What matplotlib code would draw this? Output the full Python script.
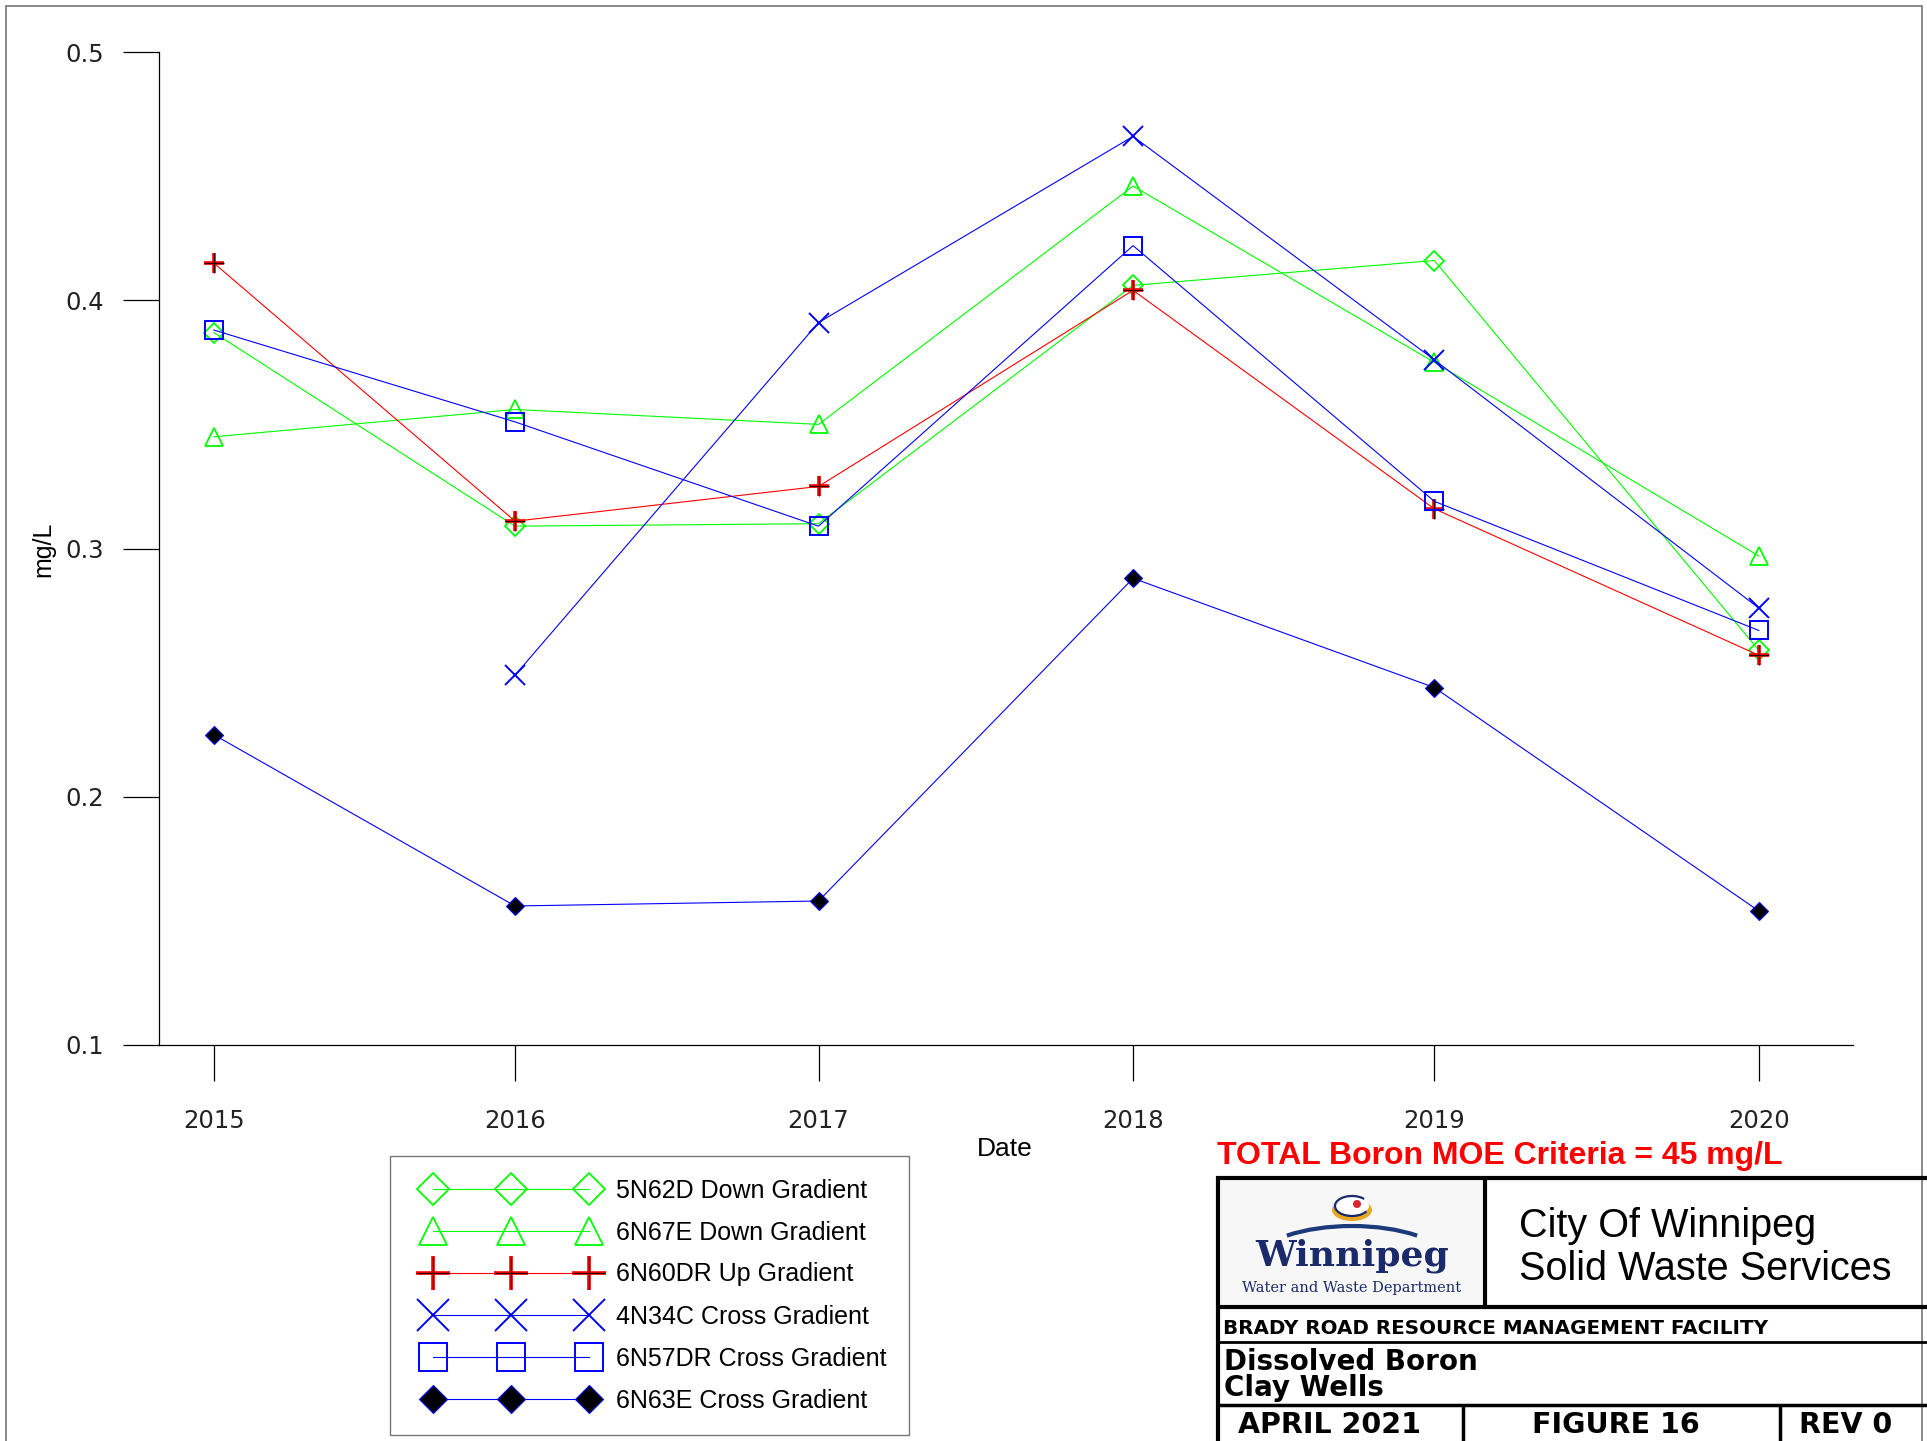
import matplotlib
matplotlib.use("Agg")
import matplotlib.pyplot as plt
from matplotlib.lines import Line2D
from matplotlib.legend_handler import HandlerTuple, HandlerLine2D
from matplotlib.patches import Rectangle, Arc, Ellipse, Circle

# ---------------- data ----------------
sample_years = [2015.45, 2016.425, 2017.407, 2018.425, 2019.40, 2020.45]
tick_labels = ["2015", "2016", "2017", "2018", "2019", "2020"]

s_5N62D = [0.387, 0.309, 0.310, 0.406, 0.416, 0.259]
s_6N67E = [0.345, 0.356, 0.350, 0.446, 0.375, 0.297]
s_6N60DR = [0.415, 0.311, 0.325, 0.404, 0.316, 0.257]
s_4N34C = [None, 0.249, 0.391, 0.466, 0.376, 0.276]
s_6N57DR = [0.388, 0.351, 0.309, 0.422, 0.319, 0.267]
s_6N63E = [0.225, 0.156, 0.158, 0.288, 0.244, 0.154]

labels = ["5N62D Down Gradient", "6N67E Down Gradient", "6N60DR Up Gradient",
          "4N34C Cross Gradient", "6N57DR Cross Gradient", "6N63E Cross Gradient"]

W, H = 1927, 1441
fig = plt.figure(figsize=(W / 100, H / 100), dpi=100)


def fx(x):
    return x / W


def fy(y):
    return 1 - y / H


ax = fig.add_axes([fx(158.5), fy(1045), fx(1853 - 158.5), (1045 - 52) / H])

GREEN = "#00FF00"
RED = "#FF0000"
BLUE = "#0000FF"
lw = 0.8


def xy(vals):
    xs = [x for x, v in zip(sample_years, vals) if v is not None]
    ys = [v for v in vals if v is not None]
    return xs, ys


x, y = xy(s_5N62D)
h1, = ax.plot(x, y, color=GREEN, lw=lw, marker="D", ms=10, mfc="none", mec=GREEN, mew=1.3)
x, y = xy(s_6N67E)
h2, = ax.plot(x, y, color=GREEN, lw=lw, marker="^", ms=13, mfc="none", mec=GREEN, mew=1.3)
x, y = xy(s_6N60DR)
h3a, = ax.plot(x, y, color=RED, lw=lw, marker="+", ms=15, mec=RED, mew=2.6)
h3b, = ax.plot(x, y, color="none", lw=0, marker="+", ms=14, mec="#300000", mew=0.9)
x, y = xy(s_4N34C)
h4, = ax.plot(x, y, color=BLUE, lw=lw, marker="x", ms=14, mec=BLUE, mew=1.4)
x, y = xy(s_6N57DR)
h5, = ax.plot(x, y, color=BLUE, lw=lw, marker="s", ms=13, mfc="none", mec=BLUE, mew=1.4)
x, y = xy(s_6N63E)
h6, = ax.plot(x, y, color=BLUE, lw=lw, marker="D", ms=9, mfc="black", mec=BLUE, mew=0.8)

ax.set_xlim(2015.271, 2020.755)
ax.set_ylim(0.1, 0.5)
ax.set_yticks([0.1, 0.2, 0.3, 0.4, 0.5])
ax.set_yticklabels(["0.1", "0.2", "0.3", "0.4", "0.5"])
ax.set_xticks(sample_years)
ax.set_xticklabels(tick_labels)
for s in ["top", "right"]:
    ax.spines[s].set_visible(False)
for s in ["left", "bottom"]:
    ax.spines[s].set_linewidth(0.9)
ax.tick_params(axis="both", direction="out", length=26, width=0.9, labelsize=17.5,
               colors="black")
ax.tick_params(axis="y", pad=13)
ax.tick_params(axis="x", pad=20)
for t in ax.get_xticklabels() + ax.get_yticklabels():
    t.set_fontfamily("DejaVu Sans")
    t.set_color("#222222")

fig.text(fx(1005), fy(1149), "Date", fontsize=19, family="Liberation Sans",
         ha="center", va="center")
fig.text(fx(43), fy(549), "mg/L", fontsize=18, family="Liberation Sans",
         ha="center", va="center", rotation=90)

# legend
line_handler = HandlerLine2D(marker_pad=0.8)
leg = fig.legend([h1, h2, (h3a, h3b), h4, h5, h6], labels,
                 handler_map={tuple: HandlerTuple(ndivide=1), Line2D: line_handler},
                 loc="upper left", bbox_to_anchor=(fx(390), fy(1156)),
                 prop={"family": "Liberation Sans", "size": 18},
                 numpoints=3, markerscale=1.6, handlelength=7.85,
                 handletextpad=0.3, labelspacing=0.72, borderpad=0.9,
                 borderaxespad=0, fancybox=False, frameon=True)
leg.get_frame().set_edgecolor("#555555")
leg.get_frame().set_linewidth(1.0)

# outer border
fig.add_artist(Rectangle((fx(6), fy(1441 + 10)), fx(1922 - 6), (1441 + 10 - 6) / H,
                         transform=fig.transFigure, fill=False, ec="#777777", lw=1.2))

# title block
fig.text(fx(1217), fy(1156), "TOTAL Boron MOE Criteria = 45 mg/L", color=RED,
         fontsize=23, fontweight="bold", family="Liberation Sans",
         ha="left", va="center")


def hline(y, x0, x1, lw=3):
    fig.add_artist(Line2D([fx(x0), fx(x1)], [fy(y), fy(y)], transform=fig.transFigure,
                          color="black", lw=lw, solid_capstyle="butt"))


def vline(x, y0, y1, lw=3):
    fig.add_artist(Line2D([fx(x), fx(x)], [fy(y0), fy(y1)], transform=fig.transFigure,
                          color="black", lw=lw, solid_capstyle="butt"))


hline(1177.5, 1216, 1927)
vline(1217.5, 1176, 1441)
vline(1485, 1177, 1306)
hline(1306.5, 1216, 1927)
hline(1342, 1216, 1927, lw=2)
hline(1405, 1216, 1927, lw=2.5)
vline(1462.5, 1405, 1441, lw=2.5)
vline(1780, 1405, 1441, lw=2.5)

fig.text(fx(1519), fy(1226), "City Of Winnipeg", fontsize=28.5, family="Liberation Sans",
         ha="left", va="center")
fig.text(fx(1519), fy(1269), "Solid Waste Services", fontsize=28.5, family="Liberation Sans",
         ha="left", va="center")
fig.text(fx(1223), fy(1329), "BRADY ROAD RESOURCE MANAGEMENT FACILITY", fontsize=14.3,
         family="DejaVu Sans", fontweight="bold", ha="left", va="center")
fig.text(fx(1224), fy(1362), "Dissolved Boron", fontsize=20, family="DejaVu Sans",
         fontweight="bold", ha="left", va="center")
fig.text(fx(1224), fy(1388), "Clay Wells", fontsize=20, family="DejaVu Sans",
         fontweight="bold", ha="left", va="center")
fig.text(fx(1330), fy(1425), "APRIL 2021", fontsize=20.5, family="DejaVu Sans",
         fontweight="bold", ha="center", va="center")
fig.text(fx(1616), fy(1425), "FIGURE 16", fontsize=20.5, family="DejaVu Sans",
         fontweight="bold", ha="center", va="center")
fig.text(fx(1846), fy(1425), "REV 0", fontsize=20.5, family="DejaVu Sans",
         fontweight="bold", ha="center", va="center")

# logo (simplified)
lax = fig.add_axes([fx(1221), fy(1304), fx(1482 - 1221), (1304 - 1181) / H])
lax.set_xlim(0, 261)
lax.set_ylim(123, 0)
lax.axis("off")
lax.add_patch(Rectangle((0, 0), 261, 123, fc="#F7F7F7", ec="none"))
lax.add_patch(Ellipse((131, 29), 40, 22, fc="#E9A620", ec="none"))
lax.add_patch(Ellipse((131, 25), 34, 18, fc="white", ec="none"))
lax.add_patch(Arc((131, 25), 34, 20, theta1=20, theta2=330, color="#1B2A6B", lw=1.6))
lax.add_patch(Circle((136, 23), 4, fc="#D9262C", ec="none"))
lax.add_patch(Arc((131, 85), 200, 80, theta1=205, theta2=335, color="#1B3B7A", lw=3))
lax.text(131, 75, "Winnipeg", fontsize=26, family="DejaVu Serif", fontweight="bold",
         color="#1B2A6B", ha="center", va="center")
lax.text(131, 107, "Water and Waste Department", fontsize=10.5, family="DejaVu Serif",
         color="#1B2A6B", ha="center", va="center")

fig.savefig("out.png", dpi=100)
